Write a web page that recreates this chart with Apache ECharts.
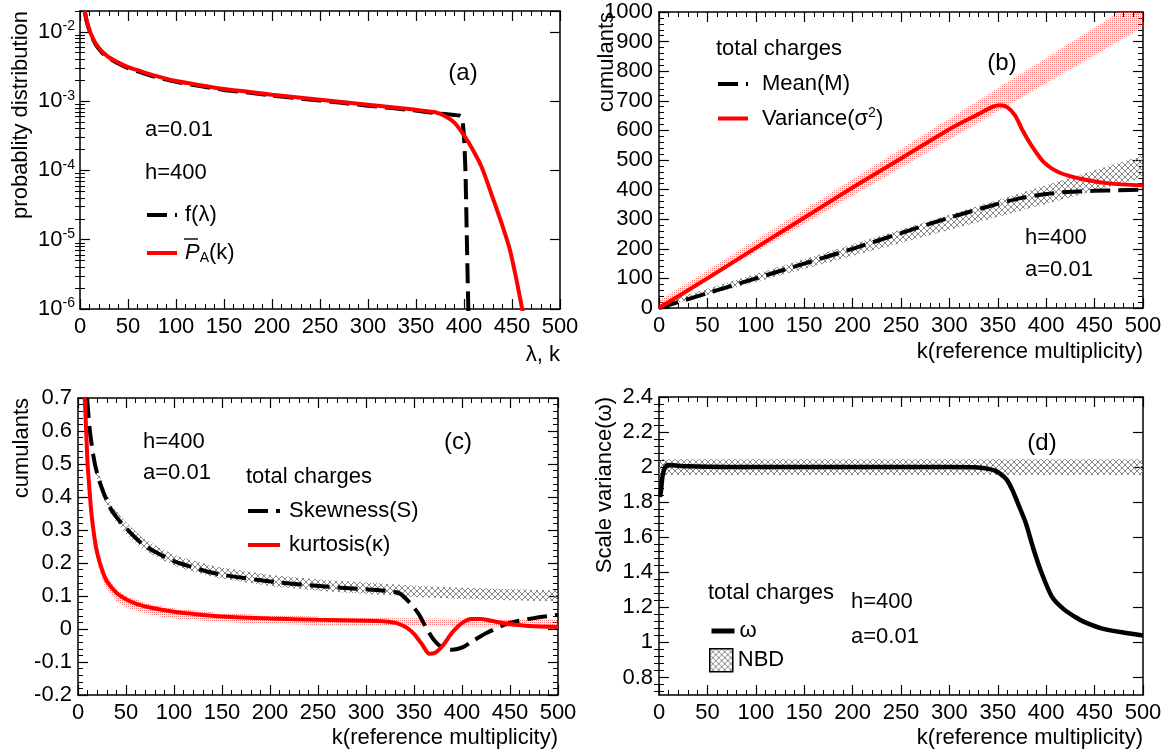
<!DOCTYPE html>
<html><head><meta charset="utf-8">
<script src="https://cdn.jsdelivr.net/npm/echarts@6/dist/echarts.min.js"></script>
<style>html,body{margin:0;padding:0;background:#fff}#c{width:1165px;height:753px}</style>
</head><body><div id="c"></div>
<script>
// ---------- DATA ----------
// (a) probability distribution (log scale)
const aK_P = [5,7,10,13,16,20,25,30,40,50,60,75,100,125,150,175,200,250,300,350,370,380,390,397,405,418,430,440,448,455,460,466];
const aVal_P = [0.020,0.0145,0.0105,0.0083,0.0069,0.0058,0.0049,0.0043,0.0036,0.0031,0.0028,0.0024,0.00195,0.0017,0.0015,0.00137,0.00124,0.00105,0.00089,0.00075,0.00069,0.00061,0.00049,0.00037,0.00025,0.000115,0.00004,0.000016,0.000007,0.0000025,0.0000011,0.0000004];
const aK_f = [5,7,10,13,16,20,25,30,40,50,60,75,100,125,150,175,200,250,300,350,370,380,390,395,398,400,401.5,403,404.5,406];
const aVal_f = [0.0195,0.0141,0.0102,0.0081,0.0067,0.0056,0.0047,0.0042,0.0035,0.003,0.0027,0.0023,0.0019,0.00165,0.00145,0.00133,0.0012,0.00102,0.00086,0.00073,0.00067,0.00065,0.00063,0.00062,0.00058,0.0003,0.0001,0.00001,0.000001,0.0000003];

// (b) mean and variance
const bK_var = [0,25,50,100,150,200,250,300,330,345,352,360,368,375,385,398,414,438,465,500];
const bVar = [0,50,100,203,305,407,505,604,655,680,685,678,650,604,548,491,457,435,421,414];
const bK_mean = [0,50,100,150,200,250,300,350,375,400,425,450,475,500];
const bMean = [0,50,100,150,200,253,305,352,372,385,393,396,398,400];
const bBandK = [0,500];
const bMeanLo = [0,440];
const bMeanHi = [15,515];
const bVarLo = [0,950];
const bVarHi = [25,1050];

// (c) skewness and kurtosis
const cK_S = [9.5,12,16,20,27,35,47,66,86,105,144,203,261,320,335,347,355,362,370,378,390,401,412,425,448,475,500];
const cS = [0.7,0.61,0.525,0.47,0.41,0.36,0.315,0.26,0.225,0.2,0.168,0.143,0.128,0.116,0.108,0.075,0.045,0.007,-0.03,-0.053,-0.063,-0.055,-0.035,-0.013,0.017,0.033,0.043];
const cK_K = [7,8.5,10,12,14,17,20,25,30,40,50,60,75,100,125,150,200,250,300,320,332,342,350,358,366,372,380,390,400,410,420,435,450,470,500];
const cKu = [0.7,0.6,0.5,0.42,0.35,0.28,0.23,0.18,0.145,0.11,0.09,0.077,0.065,0.052,0.044,0.038,0.032,0.028,0.025,0.023,0.018,0.005,-0.015,-0.045,-0.075,-0.072,-0.05,-0.01,0.018,0.03,0.03,0.022,0.015,0.009,0.006];
const cBandSK = [16,20,27,35,47,66,86,105,144,203,261,320,350,400,450,500];
const cSLo = [0.505,0.452,0.393,0.343,0.298,0.245,0.211,0.186,0.155,0.129,0.114,0.103,0.097,0.091,0.087,0.083];
const cSHi = [0.545,0.488,0.427,0.377,0.332,0.279,0.245,0.22,0.189,0.163,0.148,0.137,0.131,0.125,0.121,0.117];
const cBandKK = [20,25,30,40,50,75,100,150,200,250,300,350,400,450,500];
const cKLo = [0.2,0.15,0.12,0.085,0.066,0.043,0.032,0.021,0.016,0.012,0.01,0.009,0.008,0.007,0.006];
const cKHi = [0.26,0.2,0.16,0.12,0.1,0.075,0.062,0.048,0.042,0.037,0.034,0.032,0.031,0.03,0.029];

// (d) scaled variance
const dK = [1,2,3,4,6,9,15,30,100,200,300,330,340,347,353,359,365,371,379,387,395,406,418,430,438,457,481,500];
const dW = [1.83,1.86,1.92,1.96,1.995,2.012,2.01,2.005,2.0,2.0,2.0,1.998,1.99,1.98,1.96,1.93,1.87,1.79,1.68,1.53,1.40,1.26,1.19,1.145,1.12,1.08,1.055,1.04];
const dBandK = [0,500];
const dLo = [1.955,1.955];
const dHi = [2.045,2.045];
const dMajor = [0.8,1.0,1.2,1.4,1.6,1.8,2.0,2.2,2.4];

// ---------- HELPERS ----------
const FONT = '"Liberation Sans", Arial, Helvetica, sans-serif';
const TICKFS = 22, ANNFS = 22, TITFS = 22, PANFS = 24;
const zip = (xs, ys) => xs.map((x, i) => [x, ys[i]]);

function hatchPattern() {
  const c = document.createElement('canvas'); c.width = c.height = 6;
  const g = c.getContext('2d'); g.strokeStyle = '#7a7a7a'; g.lineWidth = 0.9;
  g.beginPath(); g.moveTo(0, 0); g.lineTo(6, 6); g.moveTo(6, 0); g.lineTo(0, 6); g.stroke();
  return { image: c, repeat: 'repeat' };
}
function dotPattern() {
  const c = document.createElement('canvas'); c.width = c.height = 2;
  const g = c.getContext('2d'); g.fillStyle = 'rgba(255,60,60,0.7)'; g.fillRect(0, 0, 1, 1);
  return { image: c, repeat: 'repeat' };
}
const GREY = hatchPattern(), PINK = dotPattern();

const grids = [
  { left: 80, top: 11, width: 480, height: 298 },
  { left: 659, top: 12, width: 484, height: 296 },
  { left: 78, top: 398, width: 480, height: 297 },
  { left: 659, top: 397, width: 484, height: 298 }
];
const axLine = { show: true, onZero: false, lineStyle: { color: '#000', width: 1.5 } };
const tickMaj = { show: true, inside: true, length: 10, lineStyle: { color: '#000', width: 1.2 } };
const tickMin = { show: true, splitNumber: 5, length: 5, lineStyle: { color: '#000', width: 1 } };
const numFmt = v => String(+(+v).toFixed(3));
const lab = (show, extra) => Object.assign({ show, color: '#000', fontSize: TICKFS, fontFamily: FONT, formatter: numFmt }, extra || {});

const xAxes = [];
grids.forEach((g, i) => ['bottom', 'top'].forEach(pos => xAxes.push({
  type: 'value', gridIndex: i, position: pos, min: 0, max: 500, interval: 50,
  axisLine: axLine, axisTick: tickMaj, minorTick: tickMin, splitLine: { show: false }, minorSplitLine: { show: false },
  axisLabel: lab(pos === 'bottom', { margin: 7 })
})));

const yAxes = [];
// (a) log axis: idx 0,1 ; minor ticks in exponent space idx 2,3
['left', 'right'].forEach(pos => yAxes.push({
  type: 'log', logBase: 10, gridIndex: 0, position: pos, min: 1e-6, max: 0.02,
  axisLine: axLine, axisTick: tickMaj, splitLine: { show: false },
  axisLabel: lab(pos === 'left', {
    margin: 5,
    formatter: v => { const e = Math.log10(v); return Math.abs(e - Math.round(e)) < 1e-6 ? '10{sup|' + Math.round(e) + '}' : ''; },
    rich: { sup: { fontSize: 14, fontFamily: FONT, color: '#000', verticalAlign: 'top', padding: [0, 0, 11, 0] } }
  })
}));
const aMinor = [];
for (let e = -6; e <= -2; e++) for (let m = 2; m <= 9; m++) { const v = m * Math.pow(10, e); if (v <= 0.02) aMinor.push(Math.log10(v)); }
['left', 'right'].forEach(pos => yAxes.push({
  type: 'value', gridIndex: 0, position: pos, min: -6, max: Math.log10(0.02),
  axisLine: { show: false }, splitLine: { show: false }, axisLabel: { show: false },
  axisTick: { show: true, inside: true, length: 5, customValues: aMinor, lineStyle: { color: '#000', width: 1 } }
}));
// (b) idx 4,5
['left', 'right'].forEach(pos => yAxes.push({
  type: 'value', gridIndex: 1, position: pos, min: 0, max: 1000, interval: 100,
  axisLine: axLine, axisTick: tickMaj, minorTick: tickMin, splitLine: { show: false }, minorSplitLine: { show: false },
  axisLabel: lab(pos === 'left', { margin: 6 })
}));
// (c) idx 6,7
['left', 'right'].forEach(pos => yAxes.push({
  type: 'value', gridIndex: 2, position: pos, min: -0.2, max: 0.7, interval: 0.1,
  axisLine: axLine, axisTick: tickMaj, minorTick: tickMin, splitLine: { show: false }, minorSplitLine: { show: false },
  axisLabel: lab(pos === 'left', { margin: 6 })
}));
// (d) idx 8,9 majors ; 10,11 minors
const dMinor = [];
for (let i = 18; i <= 60; i++) if (i % 5 !== 0) dMinor.push(+(i * 0.04).toFixed(2));
['left', 'right'].forEach(pos => yAxes.push({
  type: 'value', gridIndex: 3, position: pos, min: 0.7, max: 2.4,
  axisLine: axLine, splitLine: { show: false },
  axisTick: Object.assign({}, tickMaj, { customValues: dMajor }),
  axisLabel: lab(pos === 'left', { margin: 6, customValues: dMajor })
}));
['left', 'right'].forEach(pos => yAxes.push({
  type: 'value', gridIndex: 3, position: pos, min: 0.7, max: 2.4,
  axisLine: { show: false }, splitLine: { show: false }, axisLabel: { show: false },
  axisTick: { show: true, inside: true, length: 5, customValues: dMinor, lineStyle: { color: '#000', width: 1 } }
}));

const DASH = { color: '#000', width: 4, type: [20, 8] };
const RED = { color: '#ff0000', width: 4 };
function line(name, xi, yi, data, ls, z, sm) {
  return { name, type: 'line', xAxisIndex: xi, yAxisIndex: yi, data, symbol: 'none', showSymbol: false,
    smooth: sm === undefined ? 0.25 : sm, lineStyle: ls, itemStyle: { color: ls.color }, z: z || 3, silent: true };
}
// band drawn as one polygon between lower and upper bounds through the axes' coordinate mapping
function band(name, xi, yi, k, lo, hi, pat) {
  const rows = k.map((x, i) => [x, lo[i], hi[i]]);
  return { name, type: 'custom', xAxisIndex: xi, yAxisIndex: yi, clip: true, silent: true, z: 1,
    data: rows, encode: { x: 0, y: [1, 2] }, itemStyle: { color: '#888' },
    renderItem: (params, api) => {
      if (params.dataIndex !== 0) return;
      const pts = [];
      rows.forEach(r => pts.push(api.coord([r[0], r[1]])));
      for (let i = rows.length - 1; i >= 0; i--) pts.push(api.coord([rows[i][0], rows[i][2]]));
      return { type: 'polygon', shape: { points: pts }, style: { fill: pat, stroke: null } };
    } };
}

const series = [
  line('f(λ)', 0, 0, zip(aK_f, aVal_f), DASH, 3, 0.15), line('PA', 0, 0, zip(aK_P, aVal_P), RED, 4),
  band('bVarBand', 2, 4, bBandK, bVarLo, bVarHi, PINK),
  band('bMeanBand', 2, 4, bBandK, bMeanLo, bMeanHi, GREY),
  line('Mean(M)', 2, 4, zip(bK_mean, bMean), DASH, 3), line('Variance', 2, 4, zip(bK_var, bVar), RED, 4),
  band('cKBand', 4, 6, cBandKK, cKLo, cKHi, PINK),
  band('cSBand', 4, 6, cBandSK, cSLo, cSHi, GREY),
  line('Skewness(S)', 4, 6, zip(cK_S, cS), DASH, 3), line('kurtosis(κ)', 4, 6, zip(cK_K, cKu), RED, 4),
  band('NBD', 6, 8, dBandK, dLo, dHi, GREY),
  line('ω', 6, 8, zip(dK, dW), { color: '#000', width: 4.5 }, 4)
];

const RICH = {
  p: { fontSize: ANNFS, fontFamily: FONT, fontStyle: 'italic', color: '#000' },
  s: { fontSize: 14, fontFamily: FONT, color: '#000', verticalAlign: 'bottom', padding: [11, 0, 0, 0] },
  sup: { fontSize: 14, fontFamily: FONT, color: '#000', verticalAlign: 'top', padding: [0, 0, 11, 0] }
};
const LEGFMT = { 'PA': '{p|P}{s|A}(k)', 'Variance': 'Variance(σ{sup|2})' };
function leg(name, left, top, w, padL, extra) {
  return Object.assign({
    data: [name], left, top, orient: 'vertical', itemWidth: w, itemHeight: 14, padding: 0, selectedMode: false,
    textStyle: { color: '#000', fontSize: ANNFS, fontFamily: FONT, rich: RICH, padding: [0, 0, 0, padL] },
    formatter: n => LEGFMT[n] || n,
    itemStyle: { color: 'rgba(0,0,0,0)', borderWidth: 0 },
    lineStyle: { width: 4 }
  }, extra || {});
}
const legends = [
  leg('f(λ)', 145, 204, 30, 3), leg('PA', 145, 242, 30, 3),
  leg('Mean(M)', 716, 73, 30, 9), leg('Variance', 716, 106, 30, 9),
  leg('Skewness(S)', 246, 500, 32, 4), leg('kurtosis(κ)', 246, 534, 32, 4),
  leg('ω', 709, 620, 23, 0, { lineStyle: { width: 5 } }),
  leg('NBD', 709, 648, 23, 0, { itemHeight: 23,
    data: [{ name: 'NBD', icon: 'rect', itemStyle: { color: GREY, borderColor: '#000', borderWidth: 1.5 } }] })
];

const T = (x, y, text, o) => ({ type: 'text', x, y, silent: true,
  style: Object.assign({ text, fill: '#000', font: ANNFS + 'px ' + FONT, align: 'left', verticalAlign: 'middle' }, o || {}) });
const P = (x, y, text) => T(x, y, text, { align: 'center', font: PANFS + 'px ' + FONT });
const YT = (x, y, text) => ({ type: 'text', x, y, rotation: Math.PI / 2, silent: true,
  style: { text, fill: '#000', font: TITFS + 'px ' + FONT, align: 'right', verticalAlign: 'middle' } });
const XT = (x, y, text) => T(x, y, text, { align: 'right', font: TITFS + 'px ' + FONT });

const graphic = [
  YT(21, 11, 'probablity distribution'), XT(560, 355, 'λ, k'),
  P(463, 73, '(a)'), T(145, 130, 'a=0.01'), T(145, 173, 'h=400'),
  { type: 'line', silent: true, shape: { x1: 184, y1: 239, x2: 198, y2: 239 }, style: { stroke: '#000', lineWidth: 1.4 } },
  YT(607, 12, 'cumulants'), XT(1143, 352, 'k(reference multiplicity)'),
  T(716, 49, 'total charges'), P(1002, 63, '(b)'), T(1025, 238, 'h=400'), T(1025, 270, 'a=0.01'),
  YT(22, 398, 'cumulants'), XT(558, 738, 'k(reference multiplicity)'),
  T(143, 442, 'h=400'), T(143, 473, 'a=0.01'), T(246, 477, 'total charges'), P(458, 442, '(c)'),
  YT(605, 397, 'Scale variance(ω)'), XT(1143, 738, 'k(reference multiplicity)'),
  P(1042, 443, '(d)'), T(708, 593, 'total charges'), T(851, 602, 'h=400'), T(851, 637, 'a=0.01')
];

const chart = echarts.init(document.getElementById('c'), null, { renderer: 'canvas' });
chart.setOption({
  animation: false, backgroundColor: '#fff',
  grid: grids, xAxis: xAxes, yAxis: yAxes, series, legend: legends, graphic
});
</script></body></html>
